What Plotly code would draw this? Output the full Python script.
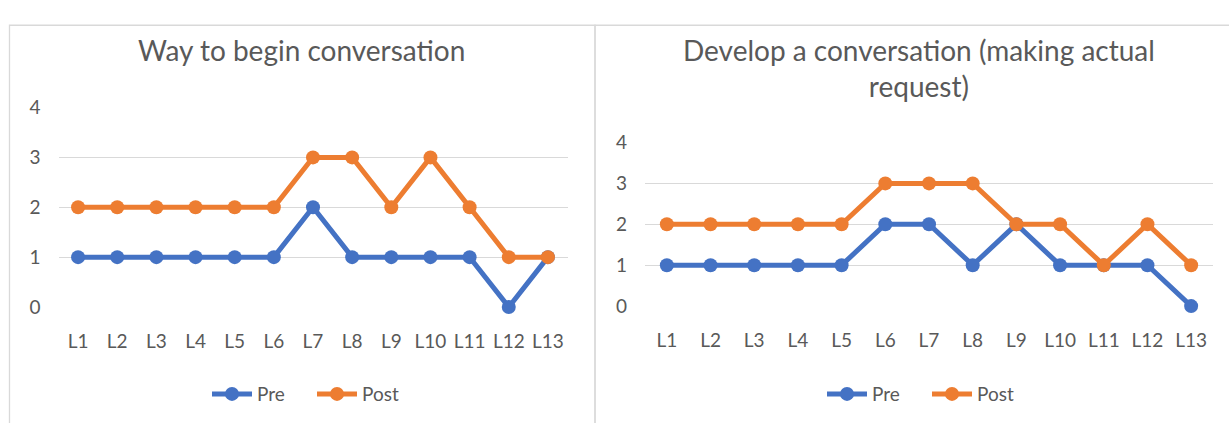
import plotly.graph_objects as go

# Lesson labels and scores
lessons = ["L1", "L2", "L3", "L4", "L5", "L6", "L7", "L8", "L9", "L10", "L11", "L12", "L13"]

begin_pre = [1, 1, 1, 1, 1, 1, 2, 1, 1, 1, 1, 0, 1]
begin_post = [2, 2, 2, 2, 2, 2, 3, 3, 2, 3, 2, 1, 1]

develop_pre = [1, 1, 1, 1, 1, 2, 2, 1, 2, 1, 1, 1, 0]
develop_post = [2, 2, 2, 2, 2, 3, 3, 3, 2, 2, 1, 2, 1]

y_ticks = [0, 1, 2, 3, 4]

W, H = 1229, 423
BLUE = "#4472C4"
ORANGE = "#ED7D31"
GRID = "#D9D9D9"
TEXT = "#595959"
FONT = "Lato, Carlito, sans-serif"


def px(x):
    return x / W


def py(y):
    return 1 - y / H


fig = go.Figure()


def add_series(values, name, color, xa, ya, legend):
    fig.add_trace(go.Scatter(
        x=lessons, y=values, name=name, mode="lines+markers",
        line=dict(color=color, width=5),
        marker=dict(color=color, size=14),
        xaxis=xa, yaxis=ya, legend=legend, showlegend=True,
        cliponaxis=False,
    ))


add_series(begin_pre, "Pre", BLUE, "x", "y", "legend")
add_series(begin_post, "Post", ORANGE, "x", "y", "legend")
add_series(develop_pre, "Pre", BLUE, "x2", "y2", "legend2")
add_series(develop_post, "Post", ORANGE, "x2", "y2", "legend2")

xaxis_common = dict(
    type="category", showgrid=False, zeroline=False, showline=False,
    ticks="", tickfont=dict(size=19, color=TEXT, family=FONT),
    ticklabelstandoff=21, range=[-0.5, 12.5], fixedrange=True,
)
yaxis_common = dict(
    range=[0, 4], tickvals=y_ticks, showgrid=True, gridcolor=GRID, gridwidth=1.3,
    zeroline=False, showline=False, ticks="",
    tickfont=dict(size=19, color=TEXT, family=FONT),
    ticklabelstandoff=17, fixedrange=True,
)

legend_common = dict(
    orientation="h", xanchor="center", yanchor="middle",
    font=dict(size=19, color=TEXT, family=FONT),
    bgcolor="rgba(0,0,0,0)", itemwidth=40, tracegroupgap=0,
    entrywidth=50, entrywidthmode="pixels",
)

fig.update_layout(
    width=W, height=H,
    margin=dict(l=0, r=0, t=0, b=0),
    paper_bgcolor="white", plot_bgcolor="white",
    font=dict(family=FONT, color=TEXT),
    xaxis=dict(domain=[px(58.5), px(567.5)], anchor="y", **xaxis_common),
    yaxis=dict(domain=[py(312), py(101)], anchor="x", **yaxis_common),
    xaxis2=dict(domain=[px(645), px(1213)], anchor="y2", **xaxis_common),
    yaxis2=dict(domain=[py(311), py(138)], anchor="x2", **yaxis_common),
    legend=dict(x=px(312), y=py(404), **legend_common),
    legend2=dict(x=px(927), y=py(404), **legend_common),
    shapes=[
        dict(type="rect", xref="paper", yref="paper",
             x0=px(9.5), x1=px(595), y0=py(440), y1=py(14),
             line=dict(color=GRID, width=1.3), layer="below"),
        dict(type="rect", xref="paper", yref="paper",
             x0=px(595), x1=px(1240), y0=py(440), y1=py(14),
             line=dict(color=GRID, width=1.3), layer="below"),
    ],
    annotations=[
        dict(text="Way to begin conversation", xref="paper", yref="paper",
             x=px(301), y=py(40), xanchor="center", yanchor="middle",
             showarrow=False, font=dict(size=28, color=TEXT, family=FONT)),
        dict(text="Develop a conversation (making actual<br>request)",
             xref="paper", yref="paper",
             x=px(919), y=py(59), xanchor="center", yanchor="middle",
             showarrow=False, font=dict(size=28, color=TEXT, family=FONT)),
    ],
)

fig.write_html("out.html")
